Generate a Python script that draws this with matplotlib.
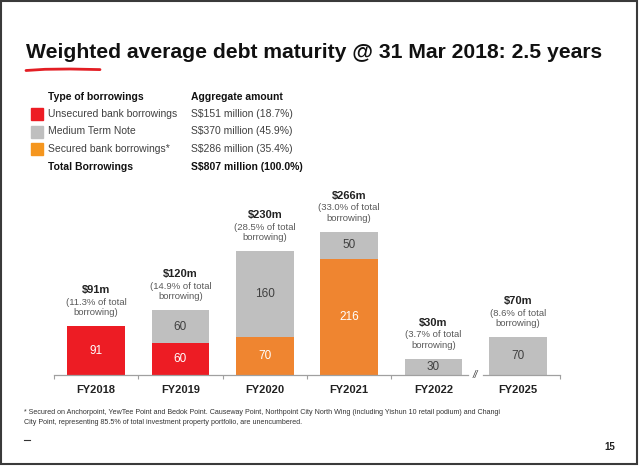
import matplotlib
matplotlib.use("Agg")
import matplotlib.pyplot as plt
from matplotlib.patches import Rectangle
from matplotlib.lines import Line2D

plt.rcParams['font.family'] = ['Liberation Sans', 'DejaVu Sans']

# data
years = ['FY2018', 'FY2019', 'FY2020', 'FY2021', 'FY2022', 'FY2025']
unsecured = [91, 60, 0, 0, 0, 0]
secured = [0, 0, 70, 216, 0, 0]
mtn = [0, 60, 160, 50, 30, 70]
totals = [91, 120, 230, 266, 30, 70]
pct_of_total = [11.3, 14.9, 28.5, 33.0, 3.7, 8.6]

legend_types = ['Unsecured bank borrowings', 'Medium Term Note', 'Secured bank borrowings*']
legend_amounts = ['S$151 million (18.7%)', 'S$370 million (45.9%)', 'S$286 million (35.4%)']
total_amount = 'S$807 million (100.0%)'

RED = '#ED1C24'
GREY = '#BFBFBF'
ORANGE = '#EF8530'
ORANGE_KEY = '#F5961E'

W, H = 640, 467
fig = plt.figure(figsize=(W / 100, H / 100), dpi=100)


def fx(x):
    return x / W


def fy(y):
    return 1 - y / H


# title and red underline
fig.text(fx(26), fy(52), 'Weighted average debt maturity @ 31 Mar 2018: 2.5 years',
         fontsize=15.2, fontweight='bold', color='#111111', va='center', ha='left')
fig.add_artist(Line2D([fx(26), fx(45), fx(70), fx(100)], [fy(70.5), fy(69.3), fy(69), fy(69.6)],
                      color='#E31E24', lw=2, solid_capstyle='round'))

# table-like legend
rows_y = [114, 131.5, 148.5]
fig.text(fx(48), fy(97), 'Type of borrowings', fontsize=7.5, fontweight='bold', va='center', color='#111111')
fig.text(fx(191), fy(97), 'Aggregate amount', fontsize=7.5, fontweight='bold', va='center', color='#111111')
for y, name, amt, col in zip(rows_y, legend_types, legend_amounts, [RED, GREY, ORANGE_KEY]):
    fig.add_artist(Rectangle((fx(31), fy(y + 6)), 12 / W, 12 / H, color=col))
    fig.text(fx(48), fy(y), name, fontsize=7.5, va='center', color='#404040')
    fig.text(fx(191), fy(y), amt, fontsize=7.5, va='center', color='#404040')
fig.text(fx(48), fy(167), 'Total Borrowings', fontsize=7.5, fontweight='bold', va='center', color='#111111')
fig.text(fx(191), fy(167), total_amount, fontsize=7.5, fontweight='bold', va='center', color='#111111')

# bar chart
ymax = 300
ax = fig.add_axes([fx(54), fy(375), (560 - 54) / W, 0.538 * ymax / H])
x = list(range(len(years)))
bw = 0.68
ax.bar(x, unsecured, bw, color=RED)
ax.bar(x, secured, bw, bottom=unsecured, color=ORANGE)
base = [u + s for u, s in zip(unsecured, secured)]
ax.bar(x, mtn, bw, bottom=base, color=GREY)

for i in x:
    # numbers inside segments
    if unsecured[i]:
        ax.text(i, unsecured[i] / 2, str(unsecured[i]), ha='center', va='center', color='white', fontsize=8.5)
    if secured[i]:
        ax.text(i, unsecured[i] + secured[i] / 2, str(secured[i]), ha='center', va='center',
                color='white', fontsize=8.5)
    if mtn[i]:
        ax.text(i, base[i] + mtn[i] / 2, str(mtn[i]), ha='center', va='center', color='#404040', fontsize=8.5)
    # labels above bars
    ax.annotate(f'${totals[i]}m', (i, totals[i]), xytext=(0, 26), textcoords='offset points',
                ha='center', va='center', fontsize=8, fontweight='bold', color='#222222',
                annotation_clip=False)
    ax.annotate(f'({pct_of_total[i]:.1f}% of total', (i, totals[i]), xytext=(0, 17.3),
                textcoords='offset points', ha='center', va='center', fontsize=6.8,
                color='#595959', annotation_clip=False)
    ax.annotate('borrowing)', (i, totals[i]), xytext=(0, 9.8), textcoords='offset points',
                ha='center', va='center', fontsize=6.8, color='#595959', annotation_clip=False)

ax.set_xlim(-0.5, 5.5)
ax.set_ylim(0, ymax)
for s in ax.spines.values():
    s.set_visible(False)
ax.set_yticks([])
ax.set_xticks(x)
ax.set_xticklabels(years, fontsize=8, fontweight='bold', color='#222222')
ax.tick_params(axis='x', which='major', length=0, pad=7)
ax.set_xticks([-0.5, 0.5, 1.5, 2.5, 3.5, 5.5], minor=True)
ax.tick_params(axis='x', which='minor', length=3, color='#A0A0A0', width=0.8)

# axis line with a break between FY2022 and FY2025
ax.plot([-0.5, 4.41], [0, 0], color='#A0A0A0', lw=0.9, clip_on=False)
ax.plot([4.59, 5.5], [0, 0], color='#A0A0A0', lw=0.9, clip_on=False)
ax.text(4.5, 0, '//', ha='center', va='center', fontsize=7, color='#404040', style='italic')

# footnote and page number
fig.text(fx(24), fy(413), '* Secured on Anchorpoint, YewTee Point and Bedok Point. Causeway Point, Northpoint City '
         'North Wing (including Yishun 10 retail podium) and Changi', fontsize=5.1, color='#333333', va='center')
fig.text(fx(24), fy(423), 'City Point, representing 85.5% of total investment property portfolio, are unencumbered.',
         fontsize=5.1, color='#333333', va='center')
fig.add_artist(Line2D([fx(24), fx(30)], [fy(440), fy(440)], color='#333333', lw=0.8))
fig.text(fx(610), fy(447), '15', fontsize=7, fontweight='bold', color='#222222', va='center', ha='center')

# slide frame
fig.add_artist(Rectangle((fx(1), fy(464)), (637 - 1) / W, (464 - 1) / H, fill=False,
                         edgecolor='#3A3A3A', lw=1.5))

fig.savefig('out.png', dpi=100)
